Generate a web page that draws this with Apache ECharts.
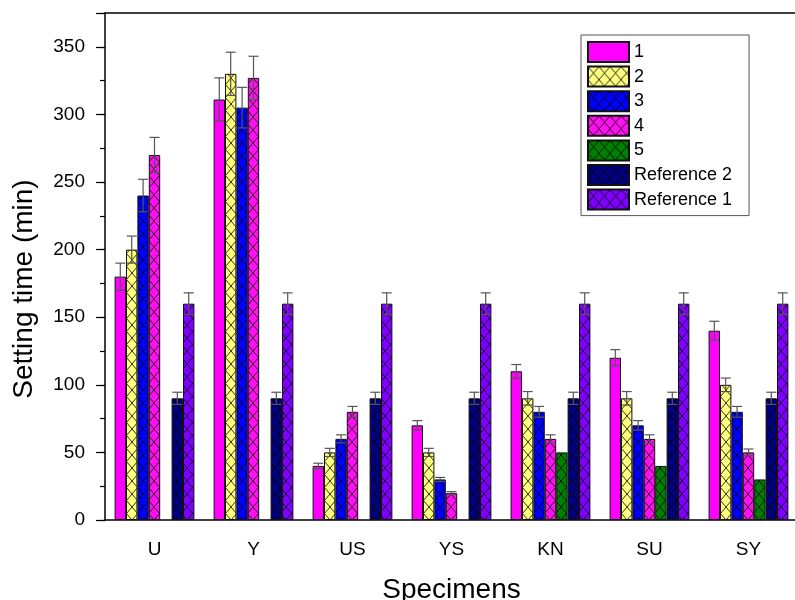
<!DOCTYPE html>
<html>
<head>
<meta charset="utf-8">
<script src="https://cdn.jsdelivr.net/npm/echarts@6/dist/echarts.min.js"></script>
<style>html,body{margin:0;padding:0;background:#fff}#c{width:795px;height:600px}</style>
</head>
<body>
<div id="c"></div>
<script>
// ---- data ----
const categories = ['U', 'Y', 'US', 'YS', 'KN', 'SU', 'SY'];
const seriesNames = ['1', '2', '3', '4', '5', 'Reference 2', 'Reference 1'];
const s1 = [180, 311, 40, 70, 110, 120, 140];
const e1 = [10, 16, 2, 3.5, 5, 6, 7];
const s2 = [200, 330, 50, 50, 90, 90, 100];
const e2 = [10, 16, 3, 3, 5, 5, 5];
const s3 = [240, 305, 60, 30, 80, 70, 80];
const e3 = [12, 15, 3, 1.5, 4, 3.5, 4];
const s4 = [270, 327, 80, 20, 60, 60, 50];
const e4 = [13, 16, 4, 1, 3, 3, 2.5];
const s5 = [null, null, null, null, 50, 40, 30];
const e5 = [null, null, null, null, 2.5, 2, 1.5];
const ref2 = [90, 90, 90, 90, 90, 90, 90];
const eRef2 = [4.5, 4.5, 4.5, 4.5, 4.5, 4.5, 4.5];
const ref1 = [160, 160, 160, 160, 160, 160, 160];
const eRef1 = [8, 8, 8, 8, 8, 8, 8];
const yTickLabels = [0, 50, 100, 150, 200, 250, 300, 350];

const values = [s1, s2, s3, s4, s5, ref2, ref1];
const errors = [e1, e2, e3, e4, e5, eRef2, eRef1];

// ---- styles ----
const FONT = 'Liberation Sans, Arial, sans-serif';
const BAR_W = 11.4;
function hatch(color) {
  const w = 11, h = 13;
  const c = document.createElement('canvas');
  c.width = w; c.height = h;
  const g = c.getContext('2d');
  g.fillStyle = color; g.fillRect(0, 0, w, h);
  g.strokeStyle = 'rgba(0,0,0,0.9)'; g.lineWidth = 0.9;
  g.beginPath();
  g.moveTo(0, 0); g.lineTo(w, h);
  g.moveTo(w, 0); g.lineTo(0, h);
  g.stroke();
  return { image: c, repeat: 'repeat' };
}
const fills = [
  '#FF00FF',
  hatch('#FFFF80'),
  hatch('#0000FF'),
  hatch('#FF10F0'),
  hatch('#008000'),
  hatch('#000080'),
  hatch('#8000FF')
];

const series = [];
seriesNames.forEach((name, k) => {
  series.push({
    name: name,
    type: 'bar',
    xAxisIndex: 0, yAxisIndex: 0,
    barWidth: BAR_W,
    barGap: '0%',
    data: values[k],
    itemStyle: { color: fills[k], borderColor: '#111', borderWidth: 1 },
    emphasis: { disabled: true },
    z: 2
  });
});
seriesNames.forEach((name, k) => {
  const data = values[k].map((v, i) => v == null ? null : [i, v, errors[k][i]]);
  series.push({
    name: 'err' + k,
    type: 'custom',
    xAxisIndex: 0, yAxisIndex: 0,
    data: data,
    z: 5,
    silent: true,
    renderItem: function (params, api) {
      const ci = api.value(0), v = api.value(1), e = api.value(2);
      if (v == null || isNaN(v)) return null;
      const off = (k - 3) * BAR_W;
      const hi = api.coord([ci, v + e]);
      const lo = api.coord([ci, v - e]);
      const x = hi[0] + off;
      const cw = 5;
      const st = { stroke: '#555', lineWidth: 1.2 };
      return {
        type: 'group',
        children: [
          { type: 'line', shape: { x1: x, y1: hi[1], x2: x, y2: lo[1] }, style: st },
          { type: 'line', shape: { x1: x - cw, y1: hi[1], x2: x + cw, y2: hi[1] }, style: st },
          { type: 'line', shape: { x1: x - cw, y1: lo[1], x2: x + cw, y2: lo[1] }, style: st }
        ]
      };
    }
  });
});

const chart = echarts.init(document.getElementById('c'));
chart.setOption({
  animation: false,
  backgroundColor: '#fff',
  grid: { left: 105, top: 13, width: 693, height: 507, containLabel: false, outerBoundsMode: 'none' },
  legend: {
    data: seriesNames,
    orient: 'vertical',
    left: 581, top: 35,
    padding: [6, 17, 5, 6],
    itemWidth: 41, itemHeight: 20, itemGap: 2.6,
    icon: 'rect',
    borderColor: '#555', borderWidth: 1,
    textStyle: { fontFamily: FONT, fontSize: 18, color: '#000', lineHeight: 20, padding: [0, 0, 0, 0] },
    selectedMode: false
  },
  xAxis: [
    {
      type: 'category', data: categories, position: 'bottom',
      axisLine: { lineStyle: { color: '#000', width: 1.5 } },
      axisTick: { alignWithLabel: true, length: 10, lineStyle: { color: '#000', width: 1.2 } },
      axisLabel: { fontFamily: FONT, fontSize: 19, color: '#000', margin: 20 },
      name: 'Specimens', nameLocation: 'middle', nameGap: 56,
      nameTextStyle: { fontFamily: FONT, fontSize: 28, color: '#000' },
      splitLine: { show: false }
    },
    {
      type: 'category', data: categories, position: 'bottom',
      axisLine: { show: false },
      axisTick: { length: 5, lineStyle: { color: '#000', width: 1.2 } },
      axisLabel: { show: false },
      splitLine: { show: false }
    },
    {
      type: 'category', data: categories, position: 'top',
      axisLine: { lineStyle: { color: '#000', width: 1.5 } },
      axisTick: { show: false },
      axisLabel: { show: false },
      splitLine: { show: false }
    }
  ],
  yAxis: [
    {
      type: 'value', min: 0, max: 375, interval: 50, position: 'left',
      axisLine: { show: true, lineStyle: { color: '#000', width: 1.5 } },
      axisTick: { show: true, length: 9, lineStyle: { color: '#000', width: 1.2 } },
      axisLabel: {
        fontFamily: FONT, fontSize: 19, color: '#000', margin: 20,
        formatter: function (v) { return yTickLabels.indexOf(v) >= 0 ? String(v) : ''; }
      },
      splitLine: { show: false }
    },
    {
      type: 'value', min: 0, max: 375, interval: 25, position: 'left',
      axisLine: { show: false },
      axisTick: { show: true, length: 5, lineStyle: { color: '#000', width: 1.2 } },
      axisLabel: { show: false },
      splitLine: { show: false }
    }
  ],
  graphic: [
    {
      type: 'text', x: 24.5, y: 289, rotation: Math.PI / 2,
      style: {
        text: 'Setting time (min)', fontFamily: FONT, fontSize: 28, fill: '#000',
        align: 'center', verticalAlign: 'middle'
      }
    }
  ],
  series: series
});
</script>
</body>
</html>
